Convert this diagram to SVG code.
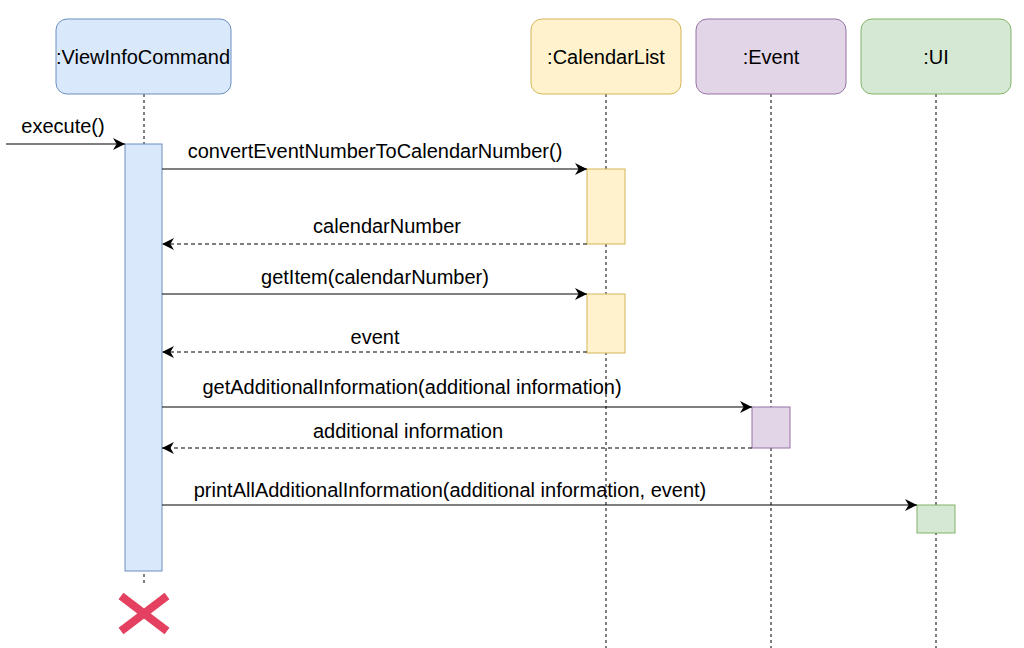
<svg xmlns="http://www.w3.org/2000/svg" width="1024" height="648" viewBox="0 0 1024 648">
<defs>
<style>
text{font-family:"Liberation Sans",Arial,sans-serif;font-size:20px;fill:#000;text-anchor:middle}
.life{stroke:#000;stroke-width:1;stroke-dasharray:3,3;fill:none}
.msg{stroke:#000;stroke-width:1.2;fill:none}
.ret{stroke:#000;stroke-width:1.2;stroke-dasharray:4,3;fill:none}
.blue{fill:#dae8fc;stroke:#6c8ebf}
.yellow{fill:#fff2cc;stroke:#d6b656}
.purple{fill:#e1d5e7;stroke:#9673a6}
.green{fill:#d5e8d4;stroke:#82b366}
</style>
<marker id="arr" viewBox="0 0 10 10" refX="10" refY="5" markerWidth="12" markerHeight="12" markerUnits="userSpaceOnUse" orient="auto">
<path d="M0,0 L10,5 L0,10 L3,5 Z" fill="#000"/>
</marker>
</defs>
<rect width="1024" height="648" fill="#fff"/>
<g id="lifelines">
<line class="life" x1="144" y1="94" x2="144" y2="583"/>
<line class="life" x1="606" y1="94" x2="606" y2="648"/>
<line class="life" x1="771" y1="94" x2="771" y2="648"/>
<line class="life" x1="936" y1="94" x2="936" y2="648"/>
</g>
<g id="viewinfocommand">
<rect class="blue" x="56" y="19" width="175" height="75" rx="11"/>
<text x="143" y="64">:ViewInfoCommand</text>
</g>
<g id="calendarlist">
<rect class="yellow" x="531" y="19" width="150" height="75" rx="11"/>
<text x="606" y="64">:CalendarList</text>
</g>
<g id="event">
<rect class="purple" x="696" y="19" width="150" height="75" rx="11"/>
<text x="771" y="64">:Event</text>
</g>
<g id="ui">
<rect class="green" x="861" y="19" width="150" height="75" rx="11"/>
<text x="936" y="64">:UI</text>
</g>
<g id="activations">
<rect class="blue" x="125" y="144" width="37" height="427"/>
<rect class="yellow" x="587" y="169" width="38" height="75"/>
<rect class="yellow" x="587" y="294" width="38" height="59"/>
<rect class="purple" x="752" y="407" width="38" height="41"/>
<rect class="green" x="917" y="505" width="38" height="28"/>
</g>
<g id="destroy">
<path d="M121,596 L167,631 M167,596 L121,631" stroke="#e4405f" stroke-width="8" fill="none"/>
</g>
<g id="connectors">
<line class="msg" x1="6" y1="144" x2="125" y2="144" marker-end="url(#arr)"/>
<line class="msg" x1="162" y1="169" x2="587" y2="169" marker-end="url(#arr)"/>
<line class="ret" x1="587" y1="244" x2="162" y2="244" marker-end="url(#arr)"/>
<line class="msg" x1="162" y1="294" x2="587" y2="294" marker-end="url(#arr)"/>
<line class="ret" x1="587" y1="352" x2="162" y2="352" marker-end="url(#arr)"/>
<line class="msg" x1="162" y1="407" x2="752" y2="407" marker-end="url(#arr)"/>
<line class="ret" x1="752" y1="448" x2="162" y2="448" marker-end="url(#arr)"/>
<line class="msg" x1="162" y1="505" x2="917" y2="505" marker-end="url(#arr)"/>
</g>
<g id="labels">
<text x="63" y="133">execute()</text>
<text x="375" y="158">convertEventNumberToCalendarNumber()</text>
<text x="387" y="233">calendarNumber</text>
<text x="375" y="284">getItem(calendarNumber)</text>
<text x="375" y="344">event</text>
<text x="412" y="394">getAdditionalInformation(additional information)</text>
<text x="408" y="438">additional information</text>
<text x="450" y="497">printAllAdditionalInformation(additional information, event)</text>
</g>
</svg>
